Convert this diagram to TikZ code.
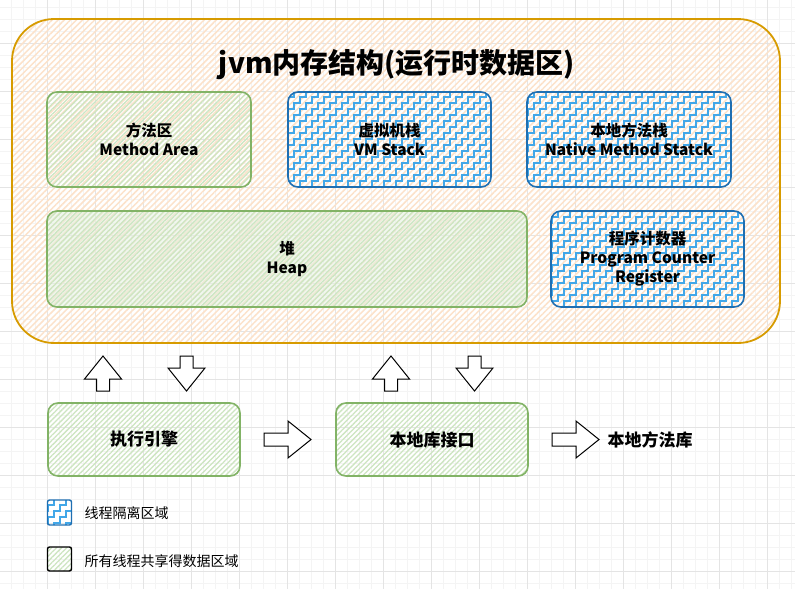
\documentclass[tikz,border=0pt]{standalone}
\usepackage{fontspec}
\setmainfont{Noto Sans CJK SC}
\usetikzlibrary{patterns.meta}

\definecolor{gridmajor}{HTML}{E4E4E4}
\definecolor{gridminor}{HTML}{F4F4F4}
\definecolor{orangeline}{HTML}{D79B00}
\definecolor{orangehatch}{HTML}{FCE2CA}
\definecolor{greenline}{HTML}{82B366}
\definecolor{greenhatch}{HTML}{CDE5C1}
\definecolor{greenwash}{HTML}{E6F2E2}
\definecolor{blueline}{HTML}{1F6FB2}
\definecolor{bluestairs}{HTML}{42A7E8}

% staircase fill used for the per-thread areas
\tikzdeclarepattern{
  name=stairs,
  type=uncolored,
  bounding box={(-1pt,-1pt) and (13pt,13pt)},
  tile size={(12pt,12pt)},
  code={
    \draw[line width=1.1pt] (-0.5pt,0pt) -- (6pt,0pt) -- (6pt,6pt) -- (12pt,6pt) -- (12pt,12.5pt);
  }
}

\tikzset{
  gridmin/.style={draw=gridminor, line width=0.8pt},
  gridmaj/.style={draw=gridmajor, line width=0.9pt},
  container/.style={draw=orangeline, line width=1.8pt, rounded corners=42pt,
    pattern={Lines[angle=45,distance=4.3pt,line width=1.5pt]}, pattern color=orangehatch},
  shared/.style={draw=greenline, line width=1.6pt, rounded corners=10pt,
    pattern={Lines[angle=45,distance=3.6pt,line width=1.3pt]}, pattern color=greenhatch},
  sharedsoft/.style={shared, preaction={fill=greenwash, fill opacity=0.55}},
  private/.style={draw=blueline, line width=1.6pt, rounded corners=10pt,
    pattern=stairs, pattern color=bluestairs},
  boxtext/.style={align=center, font=\fontsize{15.5}{19}\selectfont\bfseries, text=black},
  bigtext/.style={font=\fontsize{17}{20}\selectfont\bfseries, text=black},
  legendtext/.style={anchor=west, font=\fontsize{14}{17}\selectfont, text=black},
  arrowbody/.style={draw=black, fill=white, line width=1pt, line join=miter},
  pics/blockarrow/.style={code={
    \draw[arrowbody] (0,-6.5) -- ({#1-23},-6.5) -- ({#1-23},-18.5) -- (#1,0)
      -- ({#1-23},18.5) -- ({#1-23},6.5) -- (0,6.5) -- cycle;
  }}
}

\begin{document}
\begin{tikzpicture}[x=1pt,y=-1pt]
\useasboundingbox (0,0) rectangle (795,589);
\fill[white] (0,0) rectangle (795,589);

% background grid: fine lines every 12, strong lines every 48
\foreach \k in {0,...,67} \draw[gridmin] ({-0.5+12*\k},0) -- ({-0.5+12*\k},589);
\foreach \k in {0,...,49} \draw[gridmin] (0,{7+12*\k}) -- (795,{7+12*\k});
\foreach \k in {0,...,16} \draw[gridmaj] ({47.5+48*\k},0) -- ({47.5+48*\k},589);
\foreach \k in {0,...,12} \draw[gridmaj] (0,{43+48*\k}) -- (795,{43+48*\k});

% runtime data area
\node[container, minimum width=768pt, minimum height=324pt, inner sep=0pt] (jvm) at (396,181) {};
\node[font=\fontsize{28}{32}\selectfont\bfseries] (title) at (397,65) {jvm内存结构(运行时数据区)};

\node[shared, minimum width=204pt, minimum height=95pt] (method) at (149,139.5) {};
\node[boxtext] at (method) {方法区\\Method Area};

\node[private, minimum width=203pt, minimum height=95pt] (vmstack) at (389.5,139.5) {};
\node[boxtext] at (vmstack) {虚拟机栈\\VM Stack};

\node[private, minimum width=204pt, minimum height=95pt] (nstack) at (629,139.5) {};
\node[boxtext] at (nstack) {本地方法栈\\Native Method Statck};

\node[sharedsoft, minimum width=480pt, minimum height=96pt] (heap) at (287,259) {};
\node[boxtext] at (heap) {堆\\Heap};

\node[private, minimum width=193pt, minimum height=96pt] (pc) at (647.5,259) {};
\node[boxtext] at (pc) {程序计数器\\Program Counter\\Register};

% execution engine and native interface
\node[shared, minimum width=192pt, minimum height=73pt] (engine) at (144,439.5) {};
\node[bigtext] at (engine) {执行引擎};

\node[shared, minimum width=192pt, minimum height=73pt] (nif) at (432,439.5) {};
\node[bigtext] at (nif) {本地库接口};

\node[bigtext, anchor=west] (nlib) at (604,439.5) {本地方法库};

% block arrows
\pic[rotate=90]  at (103,391)   {blockarrow=35};
\pic[rotate=-90] at (186.5,356) {blockarrow=35};
\pic[rotate=90]  at (391,391)   {blockarrow=35};
\pic[rotate=-90] at (474.5,356) {blockarrow=35};
\pic at (264,439.5) {blockarrow=47};
\pic at (552,439.5) {blockarrow=47};

% legend
\node[private, rounded corners=2pt, line width=1.4pt, minimum width=24pt, minimum height=25pt, inner sep=0pt] (keyprivate) at (59.5,512.5) {};
\node[legendtext] (keyprivatetext) at (81,513) {线程隔离区域};

\node[shared, draw=black, rounded corners=2pt, line width=1.4pt, minimum width=24pt, minimum height=24pt, inner sep=0pt] (keyshared) at (59.5,559) {};
\node[legendtext] (keysharedtext) at (81,561) {所有线程共享得数据区域};
\end{tikzpicture}
\end{document}
